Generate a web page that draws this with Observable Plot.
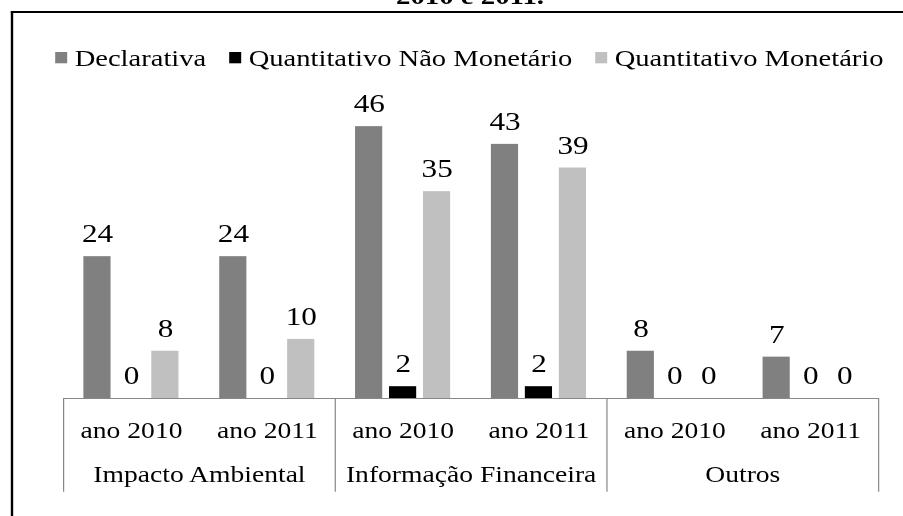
<!DOCTYPE html>
<html>
<head>
<meta charset="utf-8">
<script src="https://cdn.jsdelivr.net/npm/d3@7"></script>
<script src="https://cdn.jsdelivr.net/npm/@observablehq/plot@0.6"></script>
<style>
  html, body { margin: 0; padding: 0; background: #fff; overflow: hidden; width: 903px; height: 516px; }
  #wrap { position: absolute; left: 0; top: 0; width: 752.5px; height: 516px; transform: scaleX(1.2); transform-origin: 0 0;
          font-family: "Liberation Serif", "Times New Roman", serif; color: #000; }
  #chart { position: absolute; left: 0; top: 0; }
  #box { position: absolute; left: 9.4px; top: 11px; width: 900px; height: 700px; border-top: 2.5px solid #000; border-left: 2.5px solid #000; }
  #title { position: absolute; left: 330px; top: -15.6px; font-size: 24px; line-height: 24px; font-weight: bold; white-space: nowrap; }
  #legend { position: absolute; left: 45.8px; top: 41.5px; width: 700px; }
  #legend > div { font-family: "Liberation Serif", "Times New Roman", serif !important; font-size: 23.8px !important; margin: 0 !important;
                  min-height: 33px !important; color: #000 !important; flex-wrap: nowrap !important; white-space: nowrap !important; }
  #legend span { margin-right: 19px !important; white-space: nowrap !important; }
  #legend span:last-child { margin-right: 0 !important; }
  #legend span > svg { margin-right: 6.4px !important; }
</style>
</head>
<body>
<div id="wrap">
  <div id="chart"></div>
  <div id="box"></div>
  <div id="title">2010 e 2011.</div>
  <div id="legend"></div>
</div>
<script>
// ---- data ----
const groups = ["Impacto Ambiental", "Informação Financeira", "Outros"];
const years = ["ano 2010", "ano 2011"];
const series = ["Declarativa", "Quantitativo Não Monetário", "Quantitativo Monetário"];
const declarativa = [24, 24, 46, 43, 8, 7];
const naoMonetario = [0, 0, 2, 2, 0, 0];
const monetario = [8, 10, 35, 39, 0, 0];
const colors = ["#808080", "#000000", "#c0c0c0"];

// ---- build table ----
const seriesValues = [declarativa, naoMonetario, monetario];
const slots = [];
groups.forEach((g, gi) => years.forEach((y, yi) => slots.push({group: g, year: y, index: gi * years.length + yi})));
const bars = [];
slots.forEach(s => series.forEach((name, si) => {
  const x1 = s.index + 0.15 + si * 0.25;
  bars.push({series: name, value: seriesValues[si][s.index], x1, x2: x1 + 0.2});
}));
const nSlots = slots.length;
const yBottom = -15.85;

const chart = Plot.plot({
  width: 752.5,
  height: 516,
  marginLeft: 52.5,
  marginRight: 20.8,
  marginTop: 102.5,
  marginBottom: 24.3,
  x: {type: "linear", domain: [0, nSlots], axis: null},
  y: {domain: [yBottom, 50], axis: null},
  color: {domain: series, range: colors},
  style: {fontFamily: "Liberation Serif, Times New Roman, serif", background: "transparent", overflow: "visible"},
  marks: [
    Plot.rectY(bars, {x1: "x1", x2: "x2", y1: 0, y2: "value", fill: "series"}),
    Plot.ruleY([0], {stroke: "#878787", strokeWidth: 1}),
    Plot.ruleX(d3.range(0, nSlots + 1, years.length), {y1: 0, y2: yBottom, stroke: "#878787", strokeWidth: 1}),
    Plot.text(bars, {x: d => (d.x1 + d.x2) / 2, y: "value", text: d => String(d.value), dy: -14.5, lineAnchor: "bottom", fontSize: 26, fill: "#000"}),
    Plot.text(slots, {x: d => d.index + 0.5, y: 0, text: "year", dy: 39, lineAnchor: "bottom", fontSize: 23, fill: "#000"}),
    Plot.text(groups, {x: (d, i) => i * years.length + years.length / 2, y: 0, text: d => d, dy: 83.5, lineAnchor: "bottom", fontSize: 23, fill: "#000"})
  ]
});
document.getElementById("chart").appendChild(chart);

const legend = Plot.legend({
  color: {type: "ordinal", domain: series, range: colors},
  legend: "swatches",
  swatchWidth: 10,
  swatchHeight: 11.3
});
document.getElementById("legend").appendChild(legend);
</script>
</body>
</html>
